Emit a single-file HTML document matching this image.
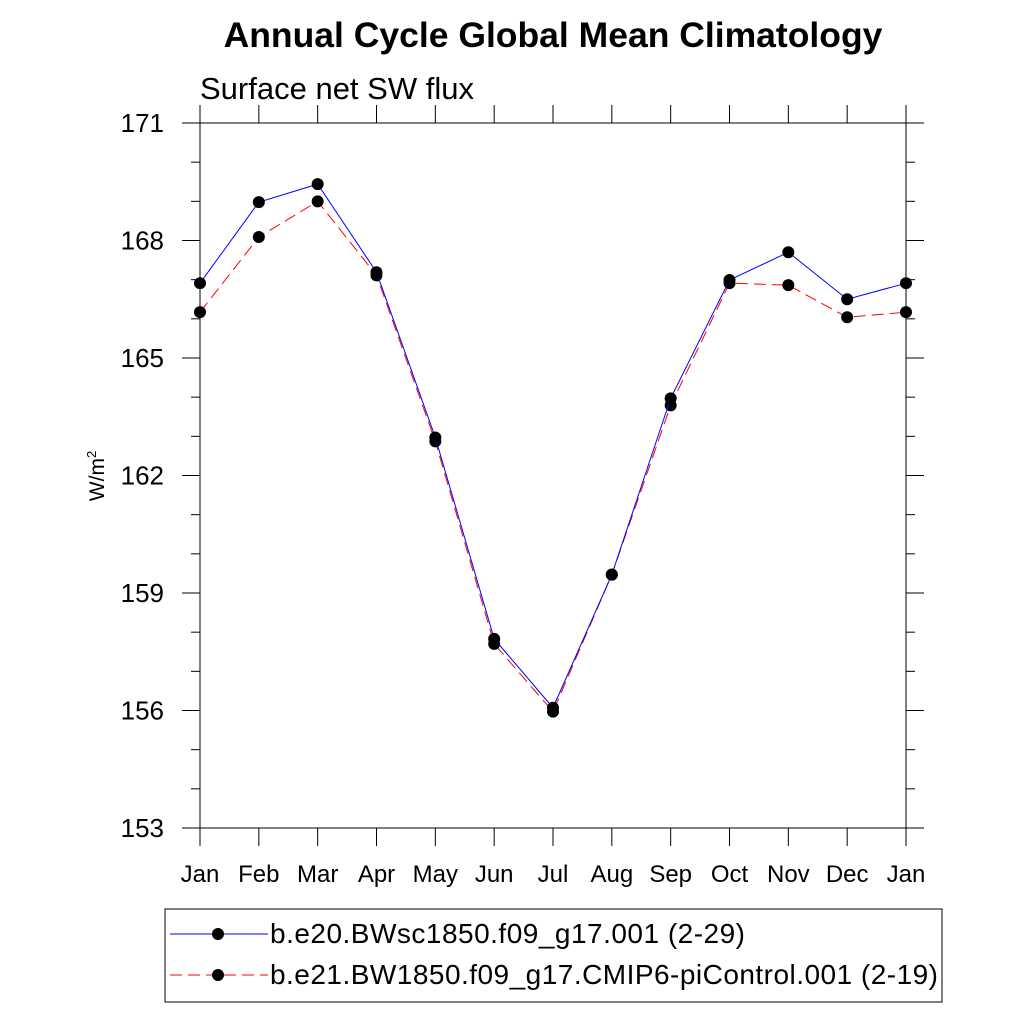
<!DOCTYPE html>
<html><head><meta charset="utf-8"><style>
body{margin:0;background:#fff}
svg text{font-family:"Liberation Sans",Arial,sans-serif;fill:#000}
</style></head><body>
<svg id="chart" width="1024" height="1024" viewBox="0 0 1024 1024">
<text x="553" y="47" text-anchor="middle" font-size="35.5" font-weight="bold">Annual Cycle Global Mean Climatology</text>
<text x="200" y="99" font-size="31">Surface net SW flux</text>
<text transform="translate(104,476) rotate(-90)" text-anchor="middle" font-size="21">W/m<tspan dy="-8" font-size="13">2</tspan></text>
<g id="axes"></g>
<g id="series"></g>
<g>
<rect x="165" y="909" width="777" height="93" fill="none" stroke="#000" stroke-width="1"/>
<line x1="170" y1="934" x2="268" y2="934" stroke="#0000ff" stroke-width="1"/>
<circle cx="218" cy="934" r="6" fill="#000"/>
<text x="270" y="943" font-size="28" textLength="475">b.e20.BWsc1850.f09_g17.001 (2-29)</text>
<line x1="170" y1="975" x2="268" y2="975" stroke="#ff0000" stroke-width="1" stroke-dasharray="12,6"/>
<circle cx="218" cy="975" r="6" fill="#000"/>
<text x="270" y="984" font-size="28" textLength="668">b.e21.BW1850.f09_g17.CMIP6-piControl.001 (2-19)</text>
</g>
</svg>
<script>
const months=["Jan","Feb","Mar","Apr","May","Jun","Jul","Aug","Sep","Oct","Nov","Dec","Jan"];
const blueValues=[166.91,168.98,169.44,167.19,162.97,157.83,156.07,159.47,163.97,166.99,167.70,166.50,166.91];
const redValues=[166.17,168.09,169.00,167.11,162.87,157.70,155.97,159.47,163.79,166.91,166.86,166.04,166.17];
const yTicks=[153,156,159,162,165,168,171];
const NS="http://www.w3.org/2000/svg";
const L=200,R=906,T=123,B=828,yMin=153,yMax=171;
const x0=200,dx=(906-200)/12;
const xs=i=>x0+i*dx;
const ys=v=>B-(v-yMin)/(yMax-yMin)*(B-T);
function mk(t,a,p){const e=document.createElementNS(NS,t);for(const k in a)e.setAttribute(k,a[k]);p.appendChild(e);return e;}
const ax=document.getElementById('axes');
const frame=mk('rect',{x:L,y:T,width:R-L,height:B-T,fill:'none',stroke:'#000','stroke-width':1},ax);


for(let v=yMin;v<=yMax;v++){
  const y=ys(v),major=yTicks.includes(v),len=major?18:9;
  mk('line',{x1:L,y1:y,x2:L-len,y2:y,stroke:'#000'},ax);
  mk('line',{x1:R,y1:y,x2:R+len,y2:y,stroke:'#000'},ax);
  if(major){const t=mk('text',{x:164,y:y+9,'text-anchor':'end','font-size':26},ax);t.textContent=v;
    
    }
}
months.forEach((m,i)=>{
  const x=xs(i);
  mk('line',{x1:x,y1:B,x2:x,y2:B+18,stroke:'#000'},ax);
  mk('line',{x1:x,y1:T,x2:x,y2:T-18,stroke:'#000'},ax);
  const t=mk('text',{x:x,y:882,'text-anchor':'middle','font-size':24},ax);t.textContent=m;
  
  
});
const sg=document.getElementById('series');
function series(vals,color,dash,name){
  const g=mk('g',{},sg);
  
  
  const pts=vals.map((v,i)=>xs(i)+','+ys(v)).join(' ');
  const a={points:pts,fill:'none',stroke:color,'stroke-width':1};if(dash)a['stroke-dasharray']=dash;
  const pl=mk('polyline',a,g);
  
  
  vals.forEach((v,i)=>{const c=mk('circle',{cx:xs(i),cy:ys(v),r:6,fill:'#000'},g);
    
    });
}
series(redValues,'#ff0000','12,6','series-bw1850');
series(blueValues,'#0000ff',null,'series-bwsc1850');
</script>
</body></html>
